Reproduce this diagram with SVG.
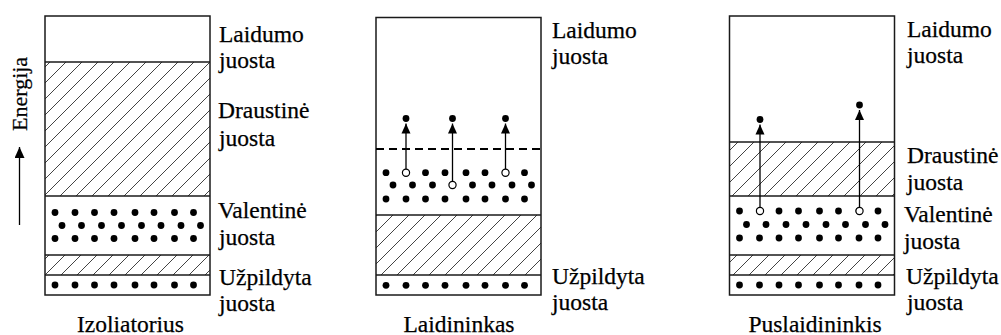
<svg xmlns="http://www.w3.org/2000/svg" width="1001" height="335" viewBox="0 0 1001 335">
<style>
.box{fill:none;stroke:#1a1a1a;stroke-width:1.5}
.ln{stroke:#1a1a1a;stroke-width:1.5}
.hatch{fill:url(#hatch);stroke:none}
.dot{fill:#000}
.hole{fill:#fff;stroke:#000;stroke-width:1.2}
.arr{stroke:#000;stroke-width:1.3;fill:none}
.txt{font-family:'Liberation Serif','Times New Roman',serif;font-size:23.5px;fill:#000;stroke:#000;stroke-width:0.25}
</style>
<defs>
<pattern id="hatch" patternUnits="userSpaceOnUse" width="16" height="16">
<path d="M-4,4 L4,-4 M0,16 L16,0 M12,20 L20,12" stroke="#444" stroke-width="1"/>
</pattern>
<marker id="ah" markerUnits="userSpaceOnUse" markerWidth="10" markerHeight="10" refX="10" refY="5" orient="auto">
<path d="M0,0.5 L10,5 L0,9.5 z" fill="#000"/>
</marker>
<marker id="ahBig" markerUnits="userSpaceOnUse" markerWidth="11" markerHeight="10" refX="11" refY="5" orient="auto">
<path d="M0,0 L11,5 L0,10 z" fill="#000"/>
</marker>
<g id="row8a">
<circle class="dot" cx="10" cy="0" r="3.4"/><circle class="dot" cx="30" cy="0" r="3.4"/><circle class="dot" cx="49.5" cy="0" r="3.4"/><circle class="dot" cx="69" cy="0" r="3.4"/><circle class="dot" cx="90" cy="0" r="3.4"/><circle class="dot" cx="109" cy="0" r="3.4"/><circle class="dot" cx="129.5" cy="0" r="3.4"/><circle class="dot" cx="148.5" cy="0" r="3.4"/>
</g>
<g id="row8b">
<circle class="dot" cx="17" cy="0" r="3.4"/><circle class="dot" cx="36.5" cy="0" r="3.4"/><circle class="dot" cx="56.5" cy="0" r="3.4"/><circle class="dot" cx="76.5" cy="0" r="3.4"/><circle class="dot" cx="96.5" cy="0" r="3.4"/><circle class="dot" cx="116" cy="0" r="3.4"/><circle class="dot" cx="136" cy="0" r="3.4"/><circle class="dot" cx="155.5" cy="0" r="3.4"/>
</g>
</defs>
<rect width="1001" height="335" fill="#fff"/>

<g id="energy-axis">
<text class="txt" style="font-size:22px" transform="translate(27,131) rotate(-90)">Energija</text>
</g>

<g id="izoliatorius">
<rect class="hatch" x="45" y="62" width="165" height="134"/>
<rect class="hatch" x="45" y="255" width="165" height="20"/>
<rect class="box" x="45" y="16" width="165" height="279"/>
<line class="ln" x1="45" y1="62" x2="210" y2="62"/>
<line class="ln" x1="45" y1="196" x2="210" y2="196"/>
<line class="ln" x1="45" y1="255" x2="210" y2="255"/>
<line class="ln" x1="45" y1="275" x2="210" y2="275"/>
<use href="#row8a" x="45" y="212.5"/>
<use href="#row8b" x="45" y="225.5"/>
<use href="#row8a" x="45" y="238.5"/>
<use href="#row8a" x="45" y="285"/>
<text class="txt" x="219" y="42">Laidumo</text>
<text class="txt" x="219" y="68">juosta</text>
<text class="txt" x="218" y="118">Draustinė</text>
<text class="txt" x="219" y="146">juosta</text>
<text class="txt" x="218" y="218">Valentinė</text>
<text class="txt" x="219" y="245">juosta</text>
<text class="txt" x="219" y="285">Užpildyta</text>
<text class="txt" x="219" y="311">juosta</text>
<text class="txt" x="130.5" y="332" text-anchor="middle">Izoliatorius</text>
</g>

<g id="laidininkas">
<rect class="hatch" x="376" y="215" width="165" height="60"/>
<rect class="box" x="376" y="17.5" width="165" height="277.5"/>
<line x1="376" y1="149" x2="541" y2="149" stroke="#000" stroke-width="2" stroke-dasharray="8,5"/>
<line class="ln" x1="376" y1="215" x2="541" y2="215"/>
<line class="ln" x1="376" y1="275" x2="541" y2="275"/>
<use href="#row8a" x="376" y="172.7"/>
<use href="#row8b" x="376" y="185"/>
<use href="#row8a" x="376" y="199"/>
<use href="#row8a" x="376" y="285.3"/>
<circle class="hole" cx="406" cy="172.7" r="3.6"/>
<circle class="hole" cx="505.5" cy="172.7" r="3.6"/>
<circle class="hole" cx="452.5" cy="185" r="3.6"/>
<circle class="dot" cx="406" cy="118.5" r="3.4"/>
<circle class="dot" cx="452.5" cy="118.5" r="3.4"/>
<circle class="dot" cx="505.5" cy="118.5" r="3.4"/>
<text class="txt" x="552" y="38">Laidumo</text>
<text class="txt" x="552" y="64">juosta</text>
<text class="txt" x="552" y="284">Užpildyta</text>
<text class="txt" x="552" y="310">juosta</text>
<text class="txt" x="459" y="332" text-anchor="middle">Laidininkas</text>
</g>

<g id="puslaidininkis">
<rect class="hatch" x="729.5" y="142" width="165" height="54"/>
<rect class="hatch" x="729.5" y="255" width="165" height="20"/>
<rect class="box" x="729.5" y="16" width="165" height="279"/>
<line class="ln" x1="729.5" y1="142" x2="894.5" y2="142"/>
<line class="ln" x1="729.5" y1="196" x2="894.5" y2="196"/>
<line class="ln" x1="729.5" y1="255" x2="894.5" y2="255"/>
<line class="ln" x1="729.5" y1="275" x2="894.5" y2="275"/>
<use href="#row8a" x="729.5" y="211"/>
<use href="#row8b" x="729.5" y="224.5"/>
<use href="#row8a" x="729.5" y="238"/>
<use href="#row8a" x="729.5" y="285"/>
<circle class="hole" cx="760" cy="211" r="3.6"/>
<circle class="hole" cx="859.5" cy="211" r="3.6"/>
<circle class="dot" cx="760" cy="119.5" r="3.4"/>
<circle class="dot" cx="859.5" cy="105" r="3.4"/>
<text class="txt" x="907" y="37">Laidumo</text>
<text class="txt" x="907" y="63">juosta</text>
<text class="txt" x="907" y="163">Draustinė</text>
<text class="txt" x="907" y="190">juosta</text>
<text class="txt" x="904" y="222">Valentinė</text>
<text class="txt" x="904" y="249">juosta</text>
<text class="txt" x="906" y="284">Užpildyta</text>
<text class="txt" x="907" y="310">juosta</text>
<text class="txt" x="815" y="332" text-anchor="middle">Puslaidininkis</text>
</g>

<g id="connectors">
<line class="arr" x1="19.5" y1="225" x2="19.5" y2="147" marker-end="url(#ahBig)"/>
<line class="arr" x1="406" y1="169" x2="406" y2="123.5" marker-end="url(#ah)"/>
<line class="arr" x1="452.5" y1="181.4" x2="452.5" y2="123.5" marker-end="url(#ah)"/>
<line class="arr" x1="505.5" y1="169" x2="505.5" y2="123.5" marker-end="url(#ah)"/>
<line class="arr" x1="760" y1="207.4" x2="760" y2="124.5" marker-end="url(#ah)"/>
<line class="arr" x1="859.5" y1="207.4" x2="859.5" y2="110" marker-end="url(#ah)"/>
</g>
</svg>
